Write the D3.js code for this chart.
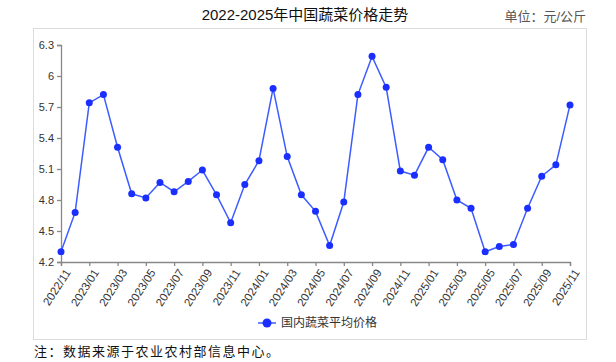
<!DOCTYPE html>
<html>
<head>
<meta charset="utf-8">
<script src="https://cdn.jsdelivr.net/npm/d3@7"></script>
<style>
  body { margin: 0; background: #fff; }
  svg { font-family: "Liberation Sans", "Noto Sans CJK SC", sans-serif; }
</style>
</head>
<body>
<svg width="616" height="362"></svg>
<script>
const months = ["2022/11","2022/12","2023/01","2023/02","2023/03","2023/04","2023/05","2023/06","2023/07","2023/08","2023/09","2023/10",
  "2023/11","2023/12","2024/01","2024/02","2024/03","2024/04","2024/05","2024/06","2024/07","2024/08","2024/09","2024/10",
  "2024/11","2024/12","2025/01","2025/02","2025/03","2025/04","2025/05","2025/06","2025/07","2025/08","2025/09","2025/10","2025/11"];
const prices = [4.30, 4.68, 5.74, 5.82, 5.31, 4.86, 4.82, 4.97, 4.88, 4.98, 5.09, 4.85,
  4.58, 4.95, 5.18, 5.88, 5.22, 4.85, 4.69, 4.36, 4.78, 5.82, 6.19, 5.89,
  5.08, 5.04, 5.31, 5.19, 4.80, 4.72, 4.30, 4.35, 4.37, 4.72, 5.03, 5.14, 5.72];
const yTicks = [4.2, 4.5, 4.8, 5.1, 5.4, 5.7, 6, 6.3];
const seriesName = "国内蔬菜平均价格";

const svg = d3.select("svg");
const m = { left: 61, right: 570, top: 45, bottom: 262 };

// outer panel
svg.append("rect")
    .attr("x", 33.5).attr("y", 28.5)
    .attr("width", 553).attr("height", 311)
    .attr("fill", "none").attr("stroke", "#dcdcdc");

svg.append("text")
    .attr("x", 305).attr("y", 20)
    .attr("text-anchor", "middle")
    .style("font-size", "15px").style("fill", "#111")
    .text("2022-2025年中国蔬菜价格走势");

svg.append("text")
    .attr("x", 586).attr("y", 21)
    .attr("text-anchor", "end")
    .style("font-size", "13px").style("fill", "#555")
    .text("单位：元/公斤");

const x = d3.scalePoint().domain(months).range([m.left, m.right]);
const y = d3.scaleLinear().domain([4.2, 6.3]).range([m.bottom, m.top]);

const yAxis = svg.append("g")
    .attr("transform", `translate(${m.left},0)`)
    .call(d3.axisLeft(y).tickValues(yTicks).tickSize(4).tickFormat(d3.format("")));
yAxis.selectAll("text").style("font-size", "11px").style("fill", "#333");

const xAxis = svg.append("g")
    .attr("transform", `translate(0,${m.bottom})`)
    .call(d3.axisBottom(x).tickValues(months.filter((d, i) => i % 2 === 0)).tickSize(4));
xAxis.selectAll("text")
    .style("font-size", "11.5px").style("fill", "#333")
    .attr("text-anchor", "end")
    .attr("dx", "-0.3em").attr("dy", "0.6em")
    .attr("transform", "rotate(-57)");

svg.selectAll(".domain, .tick line").attr("stroke", "#888").attr("stroke-width", 1.3);

svg.append("path")
    .datum(prices)
    .attr("fill", "none")
    .attr("stroke", "#3d5cff")
    .attr("stroke-width", 1.5)
    .attr("d", d3.line().x((d, i) => x(months[i])).y(d => y(d)));

svg.selectAll(".dot")
    .data(prices)
    .enter().append("circle")
    .attr("cx", (d, i) => x(months[i]))
    .attr("cy", d => y(d))
    .attr("r", 3.5)
    .attr("fill", "#1a2eff");

// legend
const lg = svg.append("g").attr("transform", "translate(258,323)");
lg.append("line").attr("x1", 0).attr("x2", 18).attr("stroke", "#3d5cff").attr("stroke-width", 1.5);
lg.append("circle").attr("cx", 9).attr("r", 4.5).attr("fill", "#1a2eff");
lg.append("text").attr("x", 23).attr("y", 4)
    .style("font-size", "12px").style("fill", "#333")
    .text(seriesName);

svg.append("text")
    .attr("x", 34).attr("y", 356)
    .style("font-size", "13px").style("fill", "#111")
    .style("letter-spacing", "1.5px")
    .text("注：数据来源于农业农村部信息中心。");
</script>
</body>
</html>
